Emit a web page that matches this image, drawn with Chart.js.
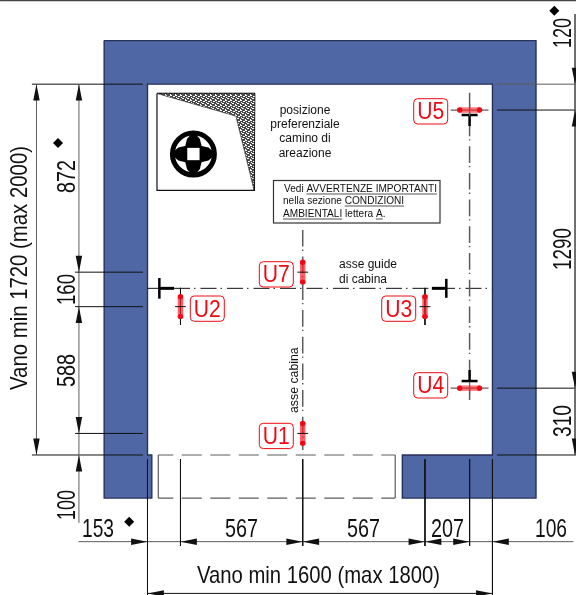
<!DOCTYPE html>
<html>
<head>
<meta charset="utf-8">
<style>
html, body { margin: 0; padding: 0; background: #fff; }
canvas { display: block; }
</style>
<script src="https://cdn.jsdelivr.net/npm/chart.js@4/dist/chart.umd.js"></script>
</head>
<body>
<canvas id="plan" width="576" height="595"></canvas>
<script>
// plan of the shaft, all values in mm from the bottom left inner corner
var widthDims = [153, 567, 567, 207, 106];
var depthDimsLeft = [100, 588, 160, 872];
var depthDimsRight = [310, 1290, 120];
var gridX = [0, 153, 720, 1287, 1494, 1600];
var gridLeftY = [0, 100, 688, 848, 1720];
var gridRightY = [0, 310, 1600, 1720];

var wallX = [-201, 1802, 1802, 1182, 1182, 1600, 1600, 0, 0, 20, 20, -201, -201];
var wallY = [1922, 1922, -200, -200, 0, 0, 1720, 1720, 0, 0, -200, -200, 1922];

var guideAxisY = 773;
var doorLeftX = 50;
var doorRightX = 1149;

var ventX = [44, 496, 496, 44, 44];
var ventY = [1677, 1677, 1227, 1227, 1677];
var ventHatchX = [44, 499, 494, 410, 44];
var ventHatchY = [1677, 1677, 1229, 1572, 1677];
var fanCentre = [213, 1396];
var lensOffA = [-105, -70, -28, 28, 70, 105, 70, 28, -28, -70, -105];
var lensOffB = [0, -30, -40, -40, -30, 0, 30, 40, 40, 30, 0];

var sensorNames = ['U1', 'U2', 'U3', 'U4', 'U5', 'U7'];
var sensorX = [720, 153, 1287, 1494, 1494, 720];
var sensorY = [100, 688, 688, 310, 1600, 848];

var markerX = [-415, 1887, -85];
var markerY = [1447, 2060, -310];

var INK = '#111111', GREY = '#5c5c5c', BLUE = '#5067a5', EDGE = '#27325a', RED = '#ee0a14';
var sets = [];

function poly(xs, ys, fillColor, edge, width) {
    var pts = [];
    for (var i = 0; i < xs.length; i++) pts.push({ x: xs[i], y: ys[i] });
    sets.push({
        data: pts, fill: 'shape', backgroundColor: fillColor,
        borderColor: edge || 'transparent', borderWidth: width || 0, pointRadius: 0
    });
}
function line(x1, y1, x2, y2, color, width, dash, offset) {
    sets.push({
        data: [{ x: x1, y: y1 }, { x: x2, y: y2 }], fill: false,
        borderColor: color || INK, borderWidth: width || 1, borderDash: dash || [],
        borderDashOffset: offset || 0, pointRadius: 0
    });
}
function dot(x, y, style, radius, color, edge, width) {
    sets.push({
        data: [{ x: x, y: y }], showLine: false, pointStyle: style, pointRadius: radius,
        pointBackgroundColor: color, pointBorderColor: edge || color, pointBorderWidth: width || 0
    });
}
// arrow head, dir is where the tip points: u d l r
function arrow(x, y, dir) {
    var len = 76, half = 15;
    if (dir == 'u') poly([x, x + half, x - half, x], [y, y - len, y - len, y], INK);
    if (dir == 'd') poly([x, x + half, x - half, x], [y, y + len, y + len, y], INK);
    if (dir == 'l') poly([x, x + len, x + len, x], [y, y + half, y - half, y], INK);
    if (dir == 'r') poly([x, x - len, x - len, x], [y, y + half, y - half, y], INK);
}

// walls
poly(wallX, wallY, BLUE, EDGE, 1.4);

// door opening
line(doorLeftX, 0, doorLeftX, -200, GREY, 1.2);
line(doorRightX, 0, doorRightX, -200, GREY, 1.2);
line(50, 0, doorRightX, 0, GREY, 1.2, [20, 8.5], 5);
line(50, -200, doorRightX, -200, GREY, 1.2, [20, 8.5], 5);

// vent symbol
poly(ventX, ventY, '#ffffff', INK, 1.2);
var hatch = document.createElement('canvas');
hatch.width = 5; hatch.height = 5;
var hc = hatch.getContext('2d');
hc.fillStyle = '#4a4a4a'; hc.fillRect(0, 0, 5, 5);
hc.fillStyle = '#ffffff';
hc.fillRect(0, 0, 2, 1); hc.fillRect(3, 1, 2, 1); hc.fillRect(1, 2, 1, 1); hc.fillRect(2, 3, 2, 1); hc.fillRect(0, 4, 1, 1);
poly(ventHatchX, ventHatchY, hc.createPattern(hatch, 'repeat'), '#111', 0.6);
dot(fanCentre[0], fanCentre[1], 'circle', 21, 'rgba(0,0,0,0)', '#000', 5);
poly(lensOffA.map(function (v) { return fanCentre[0] + v; }), lensOffB.map(function (v) { return fanCentre[1] + v; }), '#000');
poly(lensOffB.map(function (v) { return fanCentre[0] + v; }), lensOffA.map(function (v) { return fanCentre[1] + v; }), '#000');
dot(fanCentre[0], fanCentre[1], 'rect', 8.7, '#fff');

// axes
line(0, guideAxisY, 1600, guideAxisY, INK, 1, [16, 4, 1.5, 5]);
line(720, 1044, 720, 23, GREY, 1.5, [16.7, 3, 1.3, 5.7]);
line(1494, 1680, 1494, 255, GREY, 1.5, [16.7, 3, 1.3, 5.7]);

// guides
line(55, guideAxisY - 48, 55, guideAxisY + 48, '#000', 2.5);
line(55, guideAxisY, 123, guideAxisY, '#000', 3);
line(1386, guideAxisY - 44, 1386, guideAxisY + 44, '#000', 2.5);
line(1386, guideAxisY, 1319, guideAxisY, '#000', 3);
line(1457, 1577, 1531, 1577, '#000', 2.5);
line(1494, 1577, 1494, 1526, '#000', 2.5);
line(1457, 343, 1531, 343, '#000', 2.5);
line(1494, 343, 1494, 394, '#000', 2.5);

// sensors
for (var s = 0; s < sensorNames.length; s++) {
    var sx = sensorX[s], sy = sensorY[s];
    if (sensorNames[s] == 'U4' || sensorNames[s] == 'U5') {
        line(sx - 88, sy, sx + 88, sy, GREY, 1.2);
        line(sx, sy - 28, sx, sy + 28, GREY, 1.2);
        line(sx - 50, sy, sx + 50, sy, 'rgba(255,30,40,0.6)', 5.5);
        dot(sx - 46, sy, 'circle', 2.7, RED);
        dot(sx + 46, sy, 'circle', 2.7, RED);
    } else {
        if (sx != 720) line(sx, 775, sx, 603, INK, 1);
        line(sx, sy - 53, sx, sy + 53, 'rgba(255,30,40,0.7)', 5.5);
        dot(sx, sy - 46, 'circle', 2.7, RED);
        dot(sx, sy + 46, 'circle', 2.7, RED);
        line(sx - 25, sy, sx + 25, sy, INK, 1);
    }
}

// dimensions left
line(-536, 1720, -21, 1720, INK, 1);
line(-536, 0, -21, 0, INK, 1);
line(-515, 0, -515, 1720, GREY, 1);
line(-318, -315, -318, 1720, GREY, 1);
for (var a = 1; a < 4; a++) line(-336, gridLeftY[a], -21, gridLeftY[a], INK, 1);
arrow(-515, 1720, 'u'); arrow(-515, 0, 'd');
arrow(-318, 1720, 'u'); arrow(-318, gridLeftY[3], 'd');
arrow(-318, gridLeftY[2], 'u'); arrow(-318, gridLeftY[1], 'd'); arrow(-318, 0, 'u');

// dimensions right
for (var b = 0; b < gridRightY.length; b++) line(1621, gridRightY[b], 1988, gridRightY[b], b == 3 ? GREY : INK, 1);
line(1983, 2045, 1983, 0, GREY, 1);
arrow(1983, 1720, 'd'); arrow(1983, 1600, 'u'); arrow(1983, 310, 'd'); arrow(1983, 0, 'd');

// dimensions bottom
line(-320, -402, 1975, -402, GREY, 1);
line(0, -19, 0, -650, INK, 1);
line(1600, -19, 1600, -650, INK, 1);
for (var c = 1; c < 5; c++) line(gridX[c], -19, gridX[c], -422, INK, 1);
arrow(0, -402, 'r'); arrow(153, -402, 'l');
arrow(720, -402, 'r'); arrow(720, -402, 'l');
arrow(1287, -402, 'r'); arrow(1287, -402, 'l');
arrow(1494, -402, 'r'); arrow(1600, -402, 'l');
line(0, -642, 1600, -642, INK, 1);
arrow(0, -642, 'l'); arrow(1600, -642, 'r');

// frame line along the top
line(-684, 2108, 1988, 2108, '#444', 1.5);

for (var m = 0; m < markerX.length; m++) dot(markerX[m], markerY[m], 'rectRot', 5, '#000');

// text, position is the start of the baseline in page pixels
var FONT = '"Liberation Sans", Arial, sans-serif';
var labels = [
    { t: 'Vano min 1720 (max 2000)', x: 27, y: 390, r: 1, s: 24, w: 244 },
    { t: String(depthDimsLeft[3]), x: 75, y: 193, r: 1, s: 25, w: 33 },
    { t: String(depthDimsLeft[2]), x: 75, y: 305, r: 1, s: 25, w: 31 },
    { t: String(depthDimsLeft[1]), x: 75, y: 387, r: 1, s: 25, w: 33 },
    { t: String(depthDimsLeft[0]), x: 75, y: 520, r: 1, s: 25, w: 30 },
    { t: String(depthDimsRight[2]), x: 571, y: 48, r: 1, s: 25, w: 30 },
    { t: String(depthDimsRight[1]), x: 571, y: 270, r: 1, s: 25, w: 42 },
    { t: String(depthDimsRight[0]), x: 571, y: 437, r: 1, s: 25, w: 32 },
    { t: String(widthDims[0]), x: 82, y: 537, s: 25, w: 32 },
    { t: String(widthDims[1]), x: 225, y: 537, s: 25, w: 33 },
    { t: String(widthDims[2]), x: 347, y: 537, s: 25, w: 33 },
    { t: String(widthDims[3]), x: 431, y: 537, s: 25, w: 33 },
    { t: String(widthDims[4]), x: 535, y: 537, s: 25, w: 32 },
    { t: 'Vano min 1600 (max 1800)', x: 197, y: 583, s: 24, w: 243 },
    { t: 'asse cabina', x: 298, y: 413, r: 1, s: 12.3 },
    { t: 'asse guide', x: 339, y: 268, s: 12 },
    { t: 'di cabina', x: 339, y: 283, s: 12 },
    { t: 'posizione', x: 305, y: 114, s: 12, c: 1 },
    { t: 'preferenziale', x: 305, y: 128, s: 12, c: 1 },
    { t: 'camino di', x: 305, y: 142, s: 12, c: 1 },
    { t: 'areazione', x: 305, y: 157, s: 12, c: 1 }
];
var noteLines = [
    { x: 284, y: 192, runs: [['Vedi ', 0], ['AVVERTENZE IMPORTANTI', 1]] },
    { x: 283, y: 204, runs: [['nella sezione ', 0], ['CONDIZIONI', 1]] },
    { x: 283, y: 217, runs: [['AMBIENTALI', 1], [' lettera ', 0], ['A', 1], ['.', 0]] }
];
var tagBoxes = [
    { t: 'U5', x: 413.7, y: 98.7 }, { t: 'U4', x: 413.7, y: 372.7 },
    { t: 'U7', x: 259.3, y: 261.7 }, { t: 'U1', x: 259.3, y: 423.3 },
    { t: 'U2', x: 190.3, y: 296 }, { t: 'U3', x: 381.7, y: 296 }
];

var textPlugin = {
    id: 'planText',
    afterDatasetsDraw: function (chart) {
        var ctx = chart.ctx;
        ctx.save();
        ctx.fillStyle = INK;
        labels.forEach(function (l) {
            ctx.save();
            ctx.font = l.s + 'px ' + FONT;
            ctx.textAlign = l.c ? 'center' : 'left';
            ctx.textBaseline = 'alphabetic';
            ctx.translate(l.x, l.y);
            if (l.r) ctx.rotate(-Math.PI / 2);
            if (l.w) ctx.fillText(l.t, 0, 0, l.w); else ctx.fillText(l.t, 0, 0);
            ctx.restore();
        });
        // note box
        ctx.strokeStyle = '#333';
        ctx.lineWidth = 1.2;
        ctx.strokeRect(273.5, 180.5, 166.5, 42.5);
        ctx.font = '10.1px ' + FONT;
        ctx.textAlign = 'left';
        noteLines.forEach(function (n) {
            var px = n.x;
            n.runs.forEach(function (r) {
                var w = ctx.measureText(r[0]).width;
                ctx.fillText(r[0], px, n.y);
                if (r[1]) {
                    ctx.fillStyle = '#555';
                    ctx.fillRect(px, n.y + 1.5, w, 1);
                    ctx.fillStyle = INK;
                }
                px += w;
            });
        });
        // sensor tags
        tagBoxes.forEach(function (b) {
            ctx.beginPath();
            ctx.roundRect(b.x, b.y, 34, 25.3, 4);
            ctx.fillStyle = '#fff';
            ctx.fill();
            ctx.strokeStyle = RED;
            ctx.lineWidth = 1;
            ctx.stroke();
            ctx.fillStyle = RED;
            ctx.font = '23px ' + FONT;
            ctx.textAlign = 'center';
            ctx.fillText(b.t, b.x + 17, b.y + 20.6, 27);
        });
        ctx.restore();
    }
};

// first dataset would end on top otherwise
sets.reverse();

new Chart(document.getElementById('plan').getContext('2d'), {
    type: 'line',
    data: { datasets: sets },
    options: {
        responsive: false,
        animation: false,
        layout: { padding: 0, autoPadding: false },
        elements: { line: { tension: 0, borderJoinStyle: 'miter' } },
        plugins: { legend: { display: false }, tooltip: { enabled: false } },
        scales: {
            x: { type: 'linear', display: false, min: -684.1, max: 1987.5 },
            y: { type: 'linear', display: false, min: -649.4, max: 2110.4 }
        }
    },
    plugins: [textPlugin]
});
</script>
</body>
</html>
